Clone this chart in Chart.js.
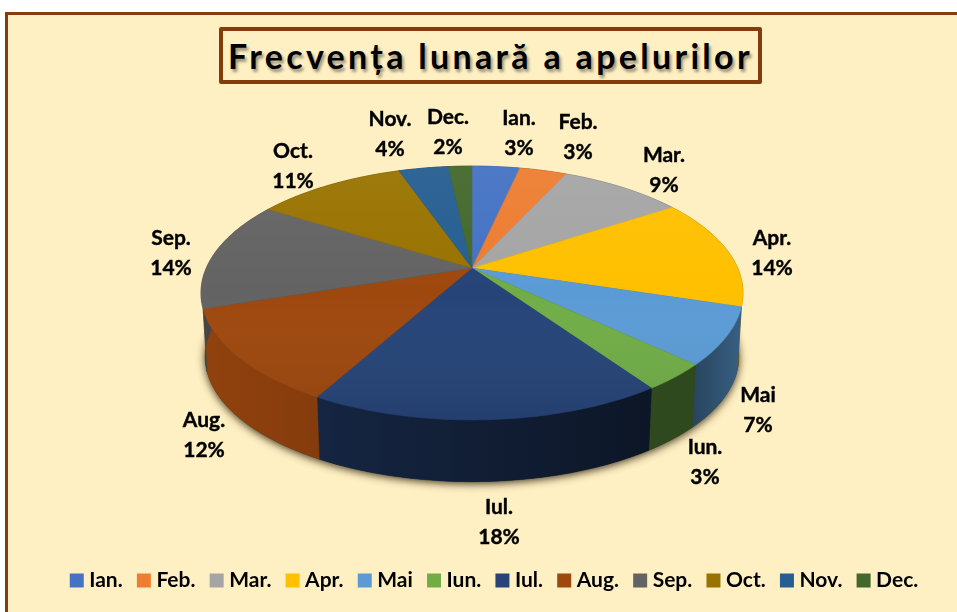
<!DOCTYPE html>
<html lang="ro">
<head>
<meta charset="utf-8">
<title>Frecvența lunară a apelurilor</title>
<script src="https://cdn.jsdelivr.net/npm/chart.js@4"></script>
<style>
    html, body { margin: 0; padding: 0; background: #fff; }
    #pagina { position: relative; width: 957px; height: 612px; overflow: hidden; }
    #cadru {
        position: absolute; left: 5px; top: 12px; width: 970px; height: 620px;
        box-sizing: border-box; background: #FFF0C3;
        border: 3px solid #843C0C;
    }
    #titlu {
        position: absolute; left: 219px; top: 27px; width: 543px; height: 57px;
        box-sizing: border-box; border: 4px solid #843C0C; border-radius: 2px;
        font: bold 34px Lato, sans-serif; letter-spacing: 3.3px; color: #000;
        text-align: center; line-height: 50px; white-space: nowrap;
        text-shadow: 2px 3px 3px rgba(0, 0, 0, .4);
    }
    canvas { position: absolute; left: 0; top: 0; }
</style>
</head>
<body>
<div id="pagina">
    <div id="cadru"></div>
    <div id="titlu">Frecvența lunară a apelurilor</div>
    <canvas id="grafic" width="957" height="612"></canvas>
</div>
<script>
const luni = ['Ian.', 'Feb.', 'Mar.', 'Apr.', 'Mai', 'Iun.', 'Iul.', 'Aug.', 'Sep.', 'Oct.', 'Nov.', 'Dec.'];
const apeluri = [3.45, 3.4, 8.9, 14.1, 7.2, 3.4, 17.6, 11.9, 14.0, 10.8, 3.6, 1.7];
const culori = ['#4472C4', '#ED7D31', '#A5A5A5', '#FFC000', '#5B9BD5', '#70AD47', '#264478', '#9E480E', '#636363', '#997300', '#255E91', '#43682B'];

// Centrul etichetelor, asezate manual ca in original
const pozEtichete = [[519, 133], [578, 137], [664, 170], [772, 253], [758, 410], [705, 462], [499, 522], [204, 435], [171, 253], [293, 166], [390, 134], [448, 132]];

// Cat de intunecat e peretele lateral (stanga, dreapta); feliile din spate nu se vad
const umbreLaterale = { 4: [0.45, 0.62], 5: [0.42, 0.42], 6: [0.55, 0.32], 7: [0.92, 0.84], 8: [0.7, 0.7] };

// Proiectie in perspectiva a discului
const persp = { cx: 472, cy: 268, a: 265.7, b: 122, k: 0.197, adancime: 64, ingustare: 0.985 };

function proiecteaza(unghi, r, jos) {
    const u = Math.cos(unghi) * r;
    const v = Math.sin(unghi) * r;
    const w = 1 - persp.k * v;
    const s = jos ? persp.ingustare : 1;
    return {
        x: persp.cx + s * persp.a * u / w,
        y: persp.cy + s * persp.b * v / w + (jos ? persp.adancime : 0)
    };
}

function punctePeMargine(start, end, jos) {
    const pasi = Math.max(2, Math.ceil((end - start) / 0.02));
    const pct = [];
    for (let i = 0; i <= pasi; i++) {
        pct.push(proiecteaza(start + (end - start) * i / pasi, 1, jos));
    }
    return pct;
}

function intuneca(hex, f) {
    const n = parseInt(hex.slice(1), 16);
    return `rgb(${Math.round((n >> 16) * f)},${Math.round(((n >> 8) & 255) * f)},${Math.round((n & 255) * f)})`;
}

const pie3d = {
    id: 'pie3d',
    beforeDatasetDraw(chart, args) {
        const ctx = chart.ctx;
        const arce = args.meta.data;

        // umbra de sub disc
        ctx.save();
        ctx.shadowColor = 'rgba(30, 20, 0, .85)';
        ctx.shadowBlur = 8;
        ctx.shadowOffsetY = 2;
        ctx.fillStyle = '#222';
        ctx.beginPath();
        punctePeMargine(-Math.PI / 2, Math.PI * 1.5, true).forEach((p, i) => i ? ctx.lineTo(p.x, p.y) : ctx.moveTo(p.x, p.y));
        ctx.closePath();
        ctx.fill();
        ctx.restore();

        // peretii laterali
        arce.forEach((arc, i) => {
            const sus = punctePeMargine(arc.startAngle, arc.endAngle, false);
            const jos = punctePeMargine(arc.startAngle, arc.endAngle, true).reverse();
            ctx.beginPath();
            sus.concat(jos).forEach((p, j) => j ? ctx.lineTo(p.x, p.y) : ctx.moveTo(p.x, p.y));
            ctx.closePath();
            const xs = sus.map(p => p.x);
            const [fSt, fDr] = umbreLaterale[i] || [0.5, 0.5];
            const g = ctx.createLinearGradient(Math.min(...xs), 0, Math.max(...xs) + 1, 0);
            g.addColorStop(0, intuneca(culori[i], fSt));
            g.addColorStop(1, intuneca(culori[i], fDr));
            ctx.fillStyle = g;
            ctx.strokeStyle = g;
            ctx.lineWidth = 0.5;
            ctx.fill();
            ctx.stroke();
        });

        // fetele de sus
        arce.forEach((arc, i) => {
            const pct = punctePeMargine(arc.startAngle, arc.endAngle, false);
            ctx.beginPath();
            ctx.moveTo(persp.cx, persp.cy);
            pct.forEach(p => ctx.lineTo(p.x, p.y));
            ctx.closePath();
            ctx.fillStyle = culori[i];
            ctx.strokeStyle = culori[i];
            ctx.lineWidth = 0.5;
            ctx.fill();
            ctx.stroke();
        });

        // luciu usor peste fata de sus
        ctx.save();
        ctx.beginPath();
        punctePeMargine(-Math.PI / 2, Math.PI * 1.5, false).forEach((p, i) => i ? ctx.lineTo(p.x, p.y) : ctx.moveTo(p.x, p.y));
        ctx.closePath();
        const luciu = ctx.createLinearGradient(0, 166, 0, 420);
        luciu.addColorStop(0, 'rgba(255,255,255,.05)');
        luciu.addColorStop(0.5, 'rgba(255,255,255,0)');
        luciu.addColorStop(1, 'rgba(0,0,0,.08)');
        ctx.fillStyle = luciu;
        ctx.fill();
        ctx.restore();

        return false;
    },
    afterDatasetsDraw(chart) {
        const ctx = chart.ctx;
        const total = apeluri.reduce((a, b) => a + b, 0);
        ctx.save();
        ctx.font = 'bold 21px Lato, sans-serif';
        ctx.fillStyle = '#000';
        ctx.strokeStyle = '#000';
        ctx.lineWidth = 0.4;
        ctx.textAlign = 'center';
        ctx.textBaseline = 'middle';
        luni.forEach((luna, i) => {
            const [x, y] = pozEtichete[i];
            const procent = Math.round(apeluri[i] / total * 100) + '%';
            ctx.fillText(luna, x, y - 15);
            ctx.strokeText(luna, x, y - 15);
            ctx.fillText(procent, x, y + 15);
            ctx.strokeText(procent, x, y + 15);
        });
        ctx.restore();
    }
};

new Chart(document.getElementById('grafic'), {
    type: 'pie',
    data: {
        labels: luni,
        datasets: [{ data: apeluri, backgroundColor: culori, borderWidth: 0 }]
    },
    options: {
        responsive: false,
        animation: false,
        layout: { padding: { bottom: 11, left: 36 } },
        plugins: {
            tooltip: { enabled: false },
            legend: {
                position: 'bottom',
                labels: {
                    usePointStyle: true,
                    pointStyle: 'rect',
                    boxWidth: 4,
                    boxHeight: 14,
                    padding: 19.2,
                    color: '#000',
                    font: { family: 'Lato, sans-serif', size: 21, weight: 'bold' }
                }
            }
        }
    },
    plugins: [pie3d]
});
</script>
</body>
</html>
